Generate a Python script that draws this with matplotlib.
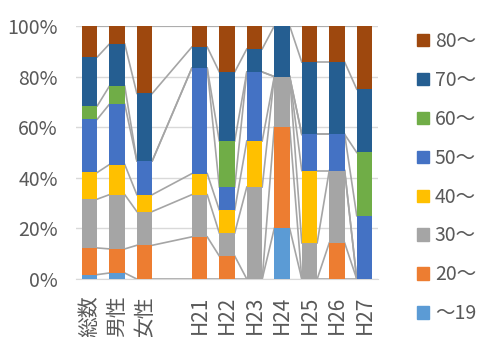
import numpy as np
import matplotlib.pyplot as plt
from matplotlib.patches import Patch

plt.rcParams['font.family'] = ['Noto Sans CJK JP', 'DejaVu Sans']

# categories (blank slot between 女性 and H21)
categories = ['総数', '男性', '女性', '', 'H21', 'H22', 'H23', 'H24', 'H25', 'H26', 'H27']

# series labels, bottom to top
series_labels = ['～19', '20～', '30～', '40～', '50～', '60～', '70～', '80～']
series_colors = ['#5B9BD5', '#ED7D31', '#A5A5A5', '#FFC000', '#4472C4', '#70AD47', '#255E91', '#9E480E']

# head counts per age group (bottom to top) for each category
total = [1, 6, 11, 6, 12, 3, 11, 7]
male = [1, 4, 9, 5, 10, 3, 7, 3]
female = [0, 2, 2, 1, 2, 0, 4, 4]
blank = [0, 0, 0, 0, 0, 0, 0, 0]
h21 = [0, 2, 2, 1, 5, 0, 1, 1]
h22 = [0, 1, 1, 1, 1, 2, 3, 2]
h23 = [0, 0, 4, 2, 3, 0, 1, 1]
h24 = [1, 2, 1, 0, 0, 0, 1, 0]
h25 = [0, 0, 1, 2, 1, 0, 2, 1]
h26 = [0, 1, 2, 0, 1, 0, 2, 1]
h27 = [0, 0, 0, 0, 1, 1, 1, 1]

counts = np.array([total, male, female, blank, h21, h22, h23, h24, h25, h26, h27], dtype=float)
sums = counts.sum(axis=1, keepdims=True)
pct = np.divide(counts, sums, out=np.zeros_like(counts), where=sums > 0) * 100
cum = np.cumsum(pct, axis=1)

fig = plt.figure(figsize=(4.83, 3.37), dpi=100)
ax = fig.add_axes([0.157, 0.172, 0.626, 0.751])

x = np.arange(len(categories))
w = 0.56
bottom = np.zeros(len(categories))
for k in range(len(series_labels)):
    ax.bar(x, pct[:, k], w, bottom=bottom, color=series_colors[k], zorder=3)
    bottom += pct[:, k]

# series lines between neighbouring bars
used = [i for i in range(len(categories)) if sums[i, 0] > 0]
for a, b in zip(used[:-1], used[1:]):
    for k in range(len(series_labels)):
        ax.plot([x[a] + w / 2, x[b] - w / 2], [cum[a, k], cum[b, k]],
                color='#A5A5A5', lw=1.2, zorder=2)

ax.set_xlim(-0.5, len(categories) - 0.5)
ax.set_ylim(0, 100)
ax.set_yticks(np.arange(0, 101, 20))
ax.set_yticklabels([f'{v}%' for v in range(0, 101, 20)])
ax.set_xticks(x)
ax.set_xticklabels(categories, rotation=90, va='top')
ax.tick_params(length=0, colors='#595959')
ax.tick_params(axis='y', labelsize=14, pad=13)
ax.tick_params(axis='x', labelsize=15, pad=12)
ax.grid(axis='y', color='#D9D9D9', lw=1, zorder=0)
for s in ['top', 'right', 'left']:
    ax.spines[s].set_visible(False)
ax.spines['bottom'].set_color('#D9D9D9')

handles = [Patch(color=series_colors[k]) for k in range(len(series_labels))][::-1]
fig.legend(handles, series_labels[::-1], loc='upper left', bbox_to_anchor=(0.848, 0.931),
           frameon=False, fontsize=14, labelcolor='#595959', handlelength=0.6,
           handleheight=0.6, handletextpad=0.3, labelspacing=0.92, borderaxespad=0)

fig.savefig('out.png', dpi=100)
